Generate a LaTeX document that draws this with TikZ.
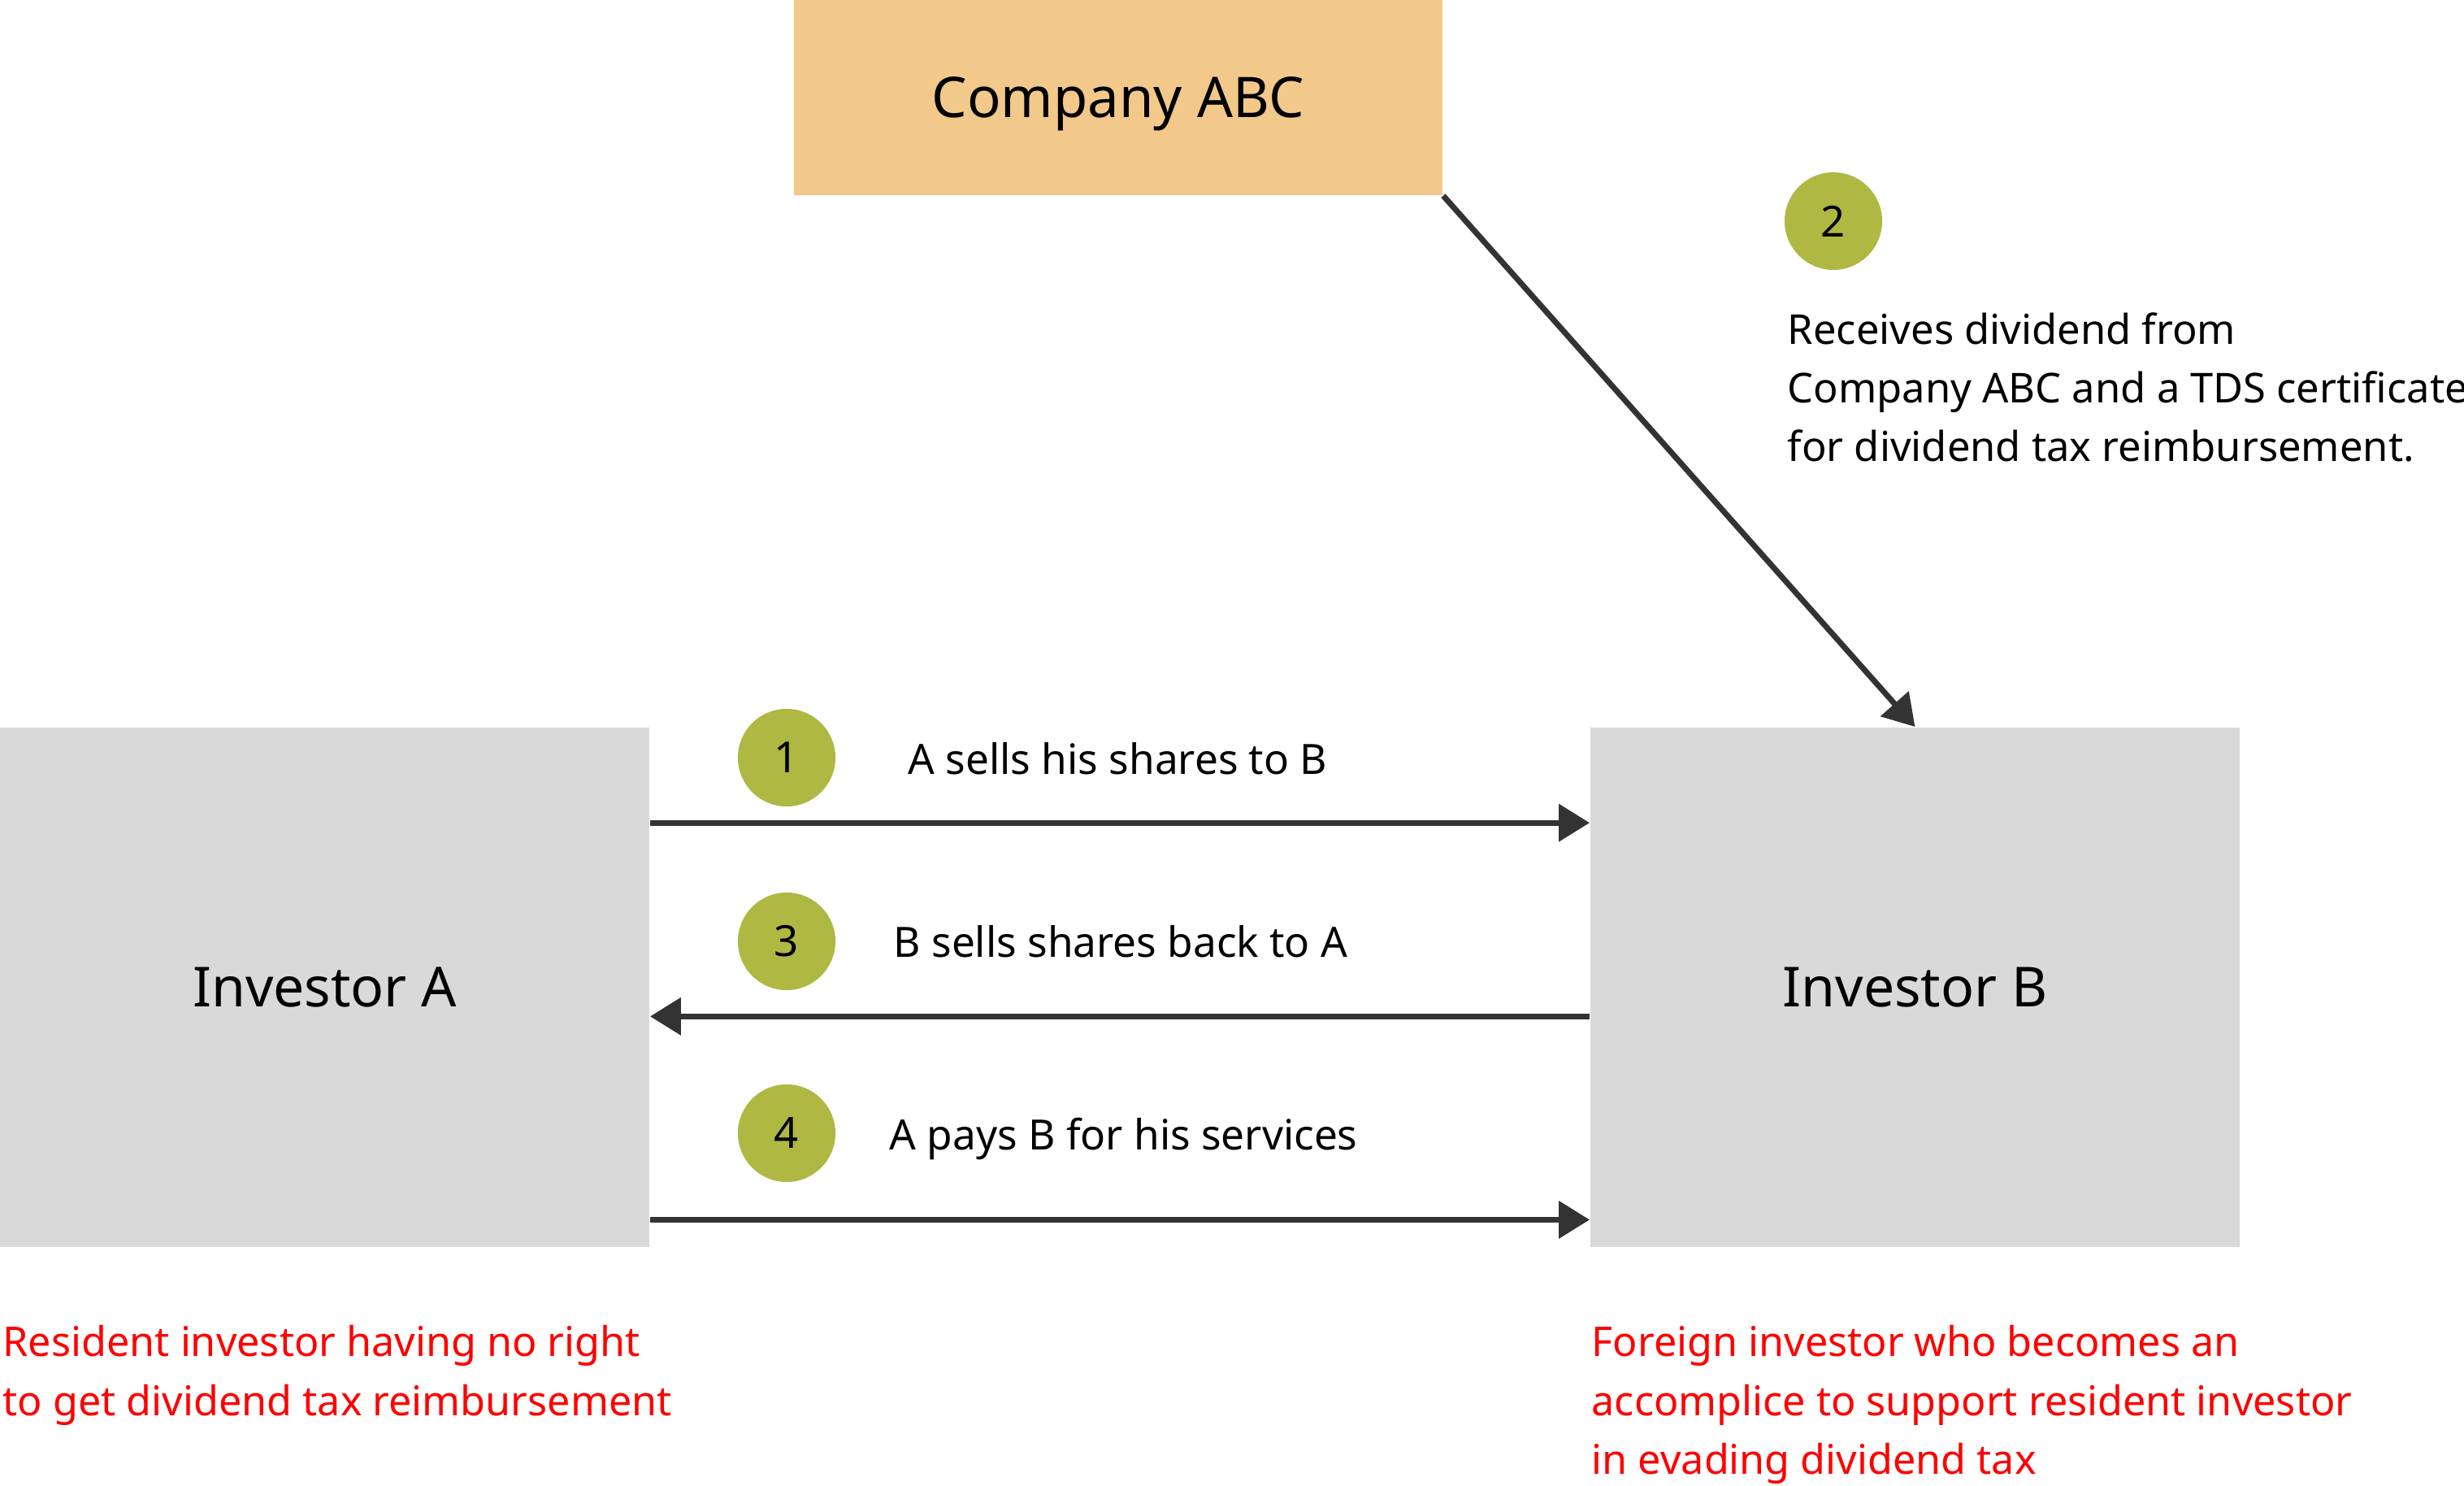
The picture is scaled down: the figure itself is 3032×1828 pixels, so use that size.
\documentclass[tikz,border=0pt]{standalone}
\usepackage{fontspec}
\setmainfont{Noto Sans}
\usetikzlibrary{arrows.meta}
\definecolor{boxorange}{HTML}{F2C98A}
\definecolor{boxgray}{HTML}{D9D9D9}
\definecolor{stepgreen}{HTML}{AEB843}
\definecolor{linegray}{HTML}{333333}
\definecolor{notered}{HTML}{FF0000}

\begin{document}
\begin{tikzpicture}[x=0.01cm, y=-0.01cm,
  party/.style={rectangle, fill=boxgray, minimum width=7.99cm, minimum height=6.39cm,
    inner sep=0pt, font=\fontsize{19.3}{24}\selectfont},
  stepdot/.style={circle, fill=stepgreen, minimum size=1.2cm, inner sep=0pt,
    font=\fontsize{15}{18}\selectfont},
  steptext/.style={anchor=base west, inner sep=0pt, font=\fontsize{14.6}{18}\selectfont},
  note/.style={anchor=north west, align=left, inner sep=0pt,
    font=\fontsize{14.3}{20.5}\selectfont},
  flow/.style={draw=linegray, line width=2pt, -{Triangle[length=0.38cm, width=0.45cm]}}]
\useasboundingbox (0,0) rectangle (3032,1828);

\node[party, fill=boxorange, minimum width=7.98cm, minimum height=2.4cm, text depth=0pt,
  font=\fontsize{19.6}{24}\selectfont] (company) at (1376,120) {Company ABC};
\node[party] (invA) at (399.5,1214.5) {Investor A};
\node[party] (invB) at (2356.5,1214.5) {Investor B};

\node[stepdot] (s1) at (968,932) {1};
\node[stepdot] (s2) at (2256,272) {2};
\node[stepdot] (s3) at (968,1158) {3};
\node[stepdot] (s4) at (968,1394) {4};

\node[steptext] (t1) at (1117,953) {A sells his shares to B};
\node[steptext] (t3) at (1099,1178) {B sells shares back to A};
\node[steptext] (t4) at (1094,1414) {A pays B for his services};
\node[note, font=\fontsize{14.4}{20.5}\selectfont] (t2) at (2199,384) {Receives dividend from\\Company ABC and a TDS certificate\\for dividend tax reimbursement.};

\node[note, text=notered] (noteA) at (3,1630) {Resident investor having no right\\to get dividend tax reimbursement};
\node[note, text=notered] (noteB) at (1958,1630) {Foreign investor who becomes an\\accomplice to support resident investor\\in evading dividend tax};

\draw[flow] (company.south east) -- (invB.north);
\draw[flow] ([yshift=-1.18cm]invA.north east) -- ([yshift=-1.18cm]invB.north west);
\draw[flow] ([yshift=-3.56cm]invB.north west) -- ([yshift=-3.56cm]invA.north east);
\draw[flow] ([yshift=-6.06cm]invA.north east) -- ([yshift=-6.06cm]invB.north west);
\end{tikzpicture}
\end{document}
